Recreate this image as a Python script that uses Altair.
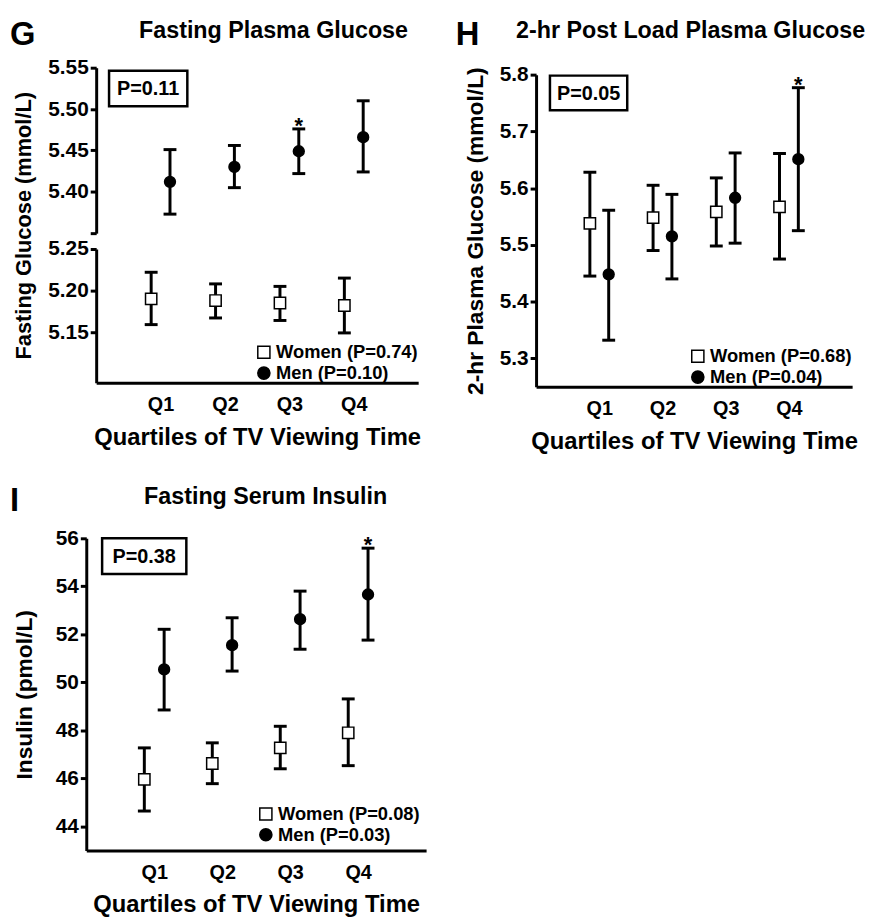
import altair as alt
import pandas as pd

FONT = "Liberation Sans"

quartiles = ["Q1", "Q2", "Q3", "Q4"]
panel_letters = ["G", "H", "I"]
panel_titles = ["Fasting Plasma Glucose", "2-hr Post Load Plasma Glucose", "Fasting Serum Insulin"]
y_titles = ["Fasting Glucose (mmol/L)", "2-hr Plasma Glucose (mmol/L)", "Insulin (pmol/L)"]
x_title = "Quartiles of TV Viewing Time"
overall_p = ["P=0.11", "P=0.05", "P=0.38"]
women_labels = ["Women (P=0.74)", "Women (P=0.68)", "Women (P=0.08)"]
men_labels = ["Men (P=0.10)", "Men (P=0.04)", "Men (P=0.03)"]

# Panel G: fasting plasma glucose (mmol/L)
g_women_mean = [5.190, 5.188, 5.185, 5.182]
g_women_low = [5.159, 5.167, 5.164, 5.149]
g_women_high = [5.222, 5.208, 5.205, 5.215]
g_men_mean = [5.412, 5.430, 5.449, 5.466]
g_men_low = [5.373, 5.405, 5.422, 5.424]
g_men_high = [5.451, 5.456, 5.476, 5.510]
g_men_star = [False, False, True, False]

# Panel H: 2-hr post load plasma glucose (mmol/L)
h_women_mean = [5.538, 5.548, 5.558, 5.567]
h_women_low = [5.445, 5.490, 5.498, 5.475]
h_women_high = [5.628, 5.605, 5.618, 5.661]
h_men_mean = [5.448, 5.515, 5.583, 5.651]
h_men_low = [5.332, 5.440, 5.503, 5.525]
h_men_high = [5.561, 5.589, 5.662, 5.777]
h_men_star = [False, False, False, True]

# Panel I: fasting serum insulin (pmol/L)
i_women_mean = [45.96, 46.62, 47.27, 47.90]
i_women_low = [44.64, 45.78, 46.40, 46.53]
i_women_high = [47.27, 47.48, 48.17, 49.31]
i_men_mean = [50.54, 51.55, 52.63, 53.66]
i_men_low = [48.85, 50.47, 51.38, 51.76]
i_men_high = [52.21, 52.69, 53.80, 55.59]
i_men_star = [False, False, False, True]

no_star = [False, False, False, False]

HALF = 9.5


def frame(means, lows, highs, stars, label):
    return pd.DataFrame({"quartile": quartiles, "mean": means, "low": lows,
                         "high": highs, "star": stars, "label": label})


def x_enc(show_axis, rng=None):
    axis = alt.Axis(title=x_title, labelAngle=0) if show_axis else None
    if rng is None:
        sc = alt.Scale(type="point", padding=1, domain=quartiles)
    else:
        sc = alt.Scale(type="point", padding=1, domain=quartiles, range=rng)
    return alt.X("quartile:N", sort=quartiles, scale=sc, axis=axis)


def series_layers(df, off, kind, xe, ys, ya, labels, legend):
    base = alt.Chart(df)
    rule = base.mark_rule(color="black", strokeWidth=3, xOffset=off).encode(
        x=xe, y=alt.Y("low:Q", scale=ys, axis=ya), y2="high:Q")
    cap_lo = base.mark_tick(orient="horizontal", color="black", size=13, thickness=3,
                            opacity=1, xOffset=off).encode(
        x=xe, y=alt.Y("low:Q", scale=ys, axis=ya))
    cap_hi = base.mark_tick(orient="horizontal", color="black", size=13, thickness=3,
                            opacity=1, xOffset=off).encode(
        x=xe, y=alt.Y("high:Q", scale=ys, axis=ya))
    size = 130 if kind == "women" else 120
    pts = base.mark_point(filled=True, strokeWidth=1.5, size=size,
                          opacity=1, xOffset=off).encode(
        x=xe, y=alt.Y("mean:Q", scale=ys, axis=ya),
        shape=alt.Shape("label:N", scale=alt.Scale(domain=labels, range=["square", "circle"]),
                        legend=legend),
        fill=alt.Fill("label:N", scale=alt.Scale(domain=labels, range=["white", "black"]),
                      legend=legend),
        stroke=alt.Stroke("label:N", scale=alt.Scale(domain=labels, range=["black", "black"]),
                          legend=legend))
    star = base.transform_filter("datum.star").mark_text(
        text="*", font=FONT, fontSize=22, fontWeight="bold", color="black",
        xOffset=off, dy=4, baseline="alphabetic").encode(
        x=xe, y=alt.Y("high:Q", scale=ys, axis=ya))
    return [rule, cap_lo, cap_hi, pts, star]


def legend_def(offset):
    return alt.Legend(title=None, orient="bottom-right", offset=offset, padding=0,
                      labelFont=FONT, labelFontSize=18.5, labelFontWeight="bold",
                      labelColor="black", symbolStrokeWidth=1.5,
                      symbolSize=150, rowPadding=2, labelOffset=3)


def p_box(text, x0, x1, y0, y1):
    d = pd.DataFrame({"p": [text]})
    box = alt.Chart(d).mark_rect(fillOpacity=0, stroke="black", strokeWidth=2.5).encode(
        x=alt.value(x0), x2=alt.value(x1), y=alt.value(y0), y2=alt.value(y1))
    txt = alt.Chart(d).mark_text(font=FONT, fontSize=20, fontWeight="bold", color="black",
                                 align="center", baseline="middle").encode(
        x=alt.value((x0 + x1) / 2), y=alt.value((y0 + y1) / 2 + 1), text="p:N")
    return [box, txt]


def letter(ch, x, y):
    d = pd.DataFrame({"letter": [ch]})
    return alt.Chart(d).mark_text(font=FONT, fontSize=33, fontWeight="bold", color="black",
                                  align="left", baseline="alphabetic").encode(
        x=alt.value(x), y=alt.value(y), text="letter:N")


def panel_title(text, x, y):
    d = pd.DataFrame({"title": [text]})
    return alt.Chart(d).mark_text(font=FONT, fontSize=23.5, fontWeight="bold", color="black",
                                  align="center", baseline="alphabetic").encode(
        x=alt.value(x), y=alt.value(y), text="title:N")


# ---------- Panel G (broken y axis: upper men, lower women) ----------
g_labels = [women_labels[0], men_labels[0]]
g_up_scale = alt.Scale(domain=[5.35, 5.55], nice=False, zero=False)
g_up_axis = alt.Axis(values=[5.35, 5.40, 5.45, 5.50, 5.55],
                     labelExpr="datum.value < 5.36 ? '' : format(datum.value, '.2f')",
                     title=y_titles[0], titleY=159, titlePadding=12, titleFontSize=22)
g_men = frame(g_men_mean, g_men_low, g_men_high, g_men_star, men_labels[0])
g_up = alt.layer(
    *series_layers(g_men, HALF, "men", x_enc(False), g_up_scale, g_up_axis, g_labels, None),
    *p_box(overall_p[0], 13, 92, 3, 39),
    letter(panel_letters[0], -87, -23),
    panel_title(panel_titles[0], 179, -30),
).properties(width=325, height=167)

g_low_scale = alt.Scale(domain=[5.089, 5.25], nice=False, zero=False)
g_low_axis = alt.Axis(values=[5.15, 5.20, 5.25], format=".2f", title=None)
g_women = frame(g_women_mean, g_women_low, g_women_high, no_star, women_labels[0])
g_low = alt.layer(
    *series_layers(g_women, -HALF, "women", x_enc(True), g_low_scale, g_low_axis, g_labels,
                   legend_def(0)),
).properties(width=325, height=135)

RES = dict(x="independent", y="independent", shape="independent", fill="independent",
           stroke="independent")

g_col = alt.vconcat(g_up, g_low, spacing=16, bounds="flush").resolve_scale(**RES)

# ---------- Panel H ----------
h_labels = [women_labels[1], men_labels[1]]
h_scale = alt.Scale(domain=[5.25, 5.8], range=[322, 7], nice=False, zero=False)
h_axis = alt.Axis(values=[5.3, 5.4, 5.5, 5.6, 5.7, 5.8], format=".1f", title=y_titles[1],
                  titlePadding=12)
h_women = frame(h_women_mean, h_women_low, h_women_high, no_star, women_labels[1])
h_men = frame(h_men_mean, h_men_low, h_men_high, h_men_star, men_labels[1])
h_chart = alt.layer(
    *series_layers(h_women, -HALF, "women", x_enc(True), h_scale, h_axis, h_labels, legend_def(0)),
    *series_layers(h_men, HALF, "men", x_enc(True), h_scale, h_axis, h_labels, legend_def(0)),
    *p_box(overall_p[1], 14, 92, 8, 43),
    letter(panel_letters[1], -81, -23),
    panel_title(panel_titles[1], 156, -30),
).properties(width=319, height=322)

# ---------- Panel I ----------
i_labels = [women_labels[2], men_labels[2]]
i_scale = alt.Scale(domain=[43, 56], nice=False, zero=False)
i_axis = alt.Axis(values=[44, 46, 48, 50, 52, 54, 56], format="d", title=y_titles[2],
                  titlePadding=19, offset=10)
i_x = x_enc(True, rng=[-10, 333])
i_women = frame(i_women_mean, i_women_low, i_women_high, no_star, women_labels[2])
i_men = frame(i_men_mean, i_men_low, i_men_high, i_men_star, men_labels[2])
i_chart = alt.layer(
    *series_layers(i_women, -10, "women", i_x, i_scale, i_axis, i_labels, legend_def(6)),
    *series_layers(i_men, 10, "men", i_x, i_scale, i_axis, i_labels, legend_def(6)),
    *p_box(overall_p[2], 6, 91, 0, 36),
    letter(panel_letters[2], -87, -28),
    panel_title(panel_titles[2], 171, -35),
).properties(width=333, height=315)

row1 = alt.concat(g_col, h_chart, columns=2, spacing=35).resolve_scale(**RES)

chart = alt.concat(row1, i_chart, columns=1, spacing=32).resolve_scale(
    **RES
).properties(padding={"left": 2, "top": 7, "right": 0, "bottom": 0}).configure(
    font=FONT, background="white"
).configure_view(stroke=None).configure_axis(
    domainColor="black", domainWidth=3, tickColor="black", tickWidth=3, tickSize=6,
    labelColor="black", labelFont=FONT, labelFontWeight="bold", labelFontSize=21,
    titleFont=FONT, titleFontWeight="bold", titleFontSize=23, titleColor="black",
    grid=False, labelPadding=2
).configure_axisX(
    ticks=False, labelFontSize=20, labelPadding=12, titlePadding=11, titleFontSize=24
)

chart.save("out.html", embed_options={"renderer": "svg", "actions": False})
